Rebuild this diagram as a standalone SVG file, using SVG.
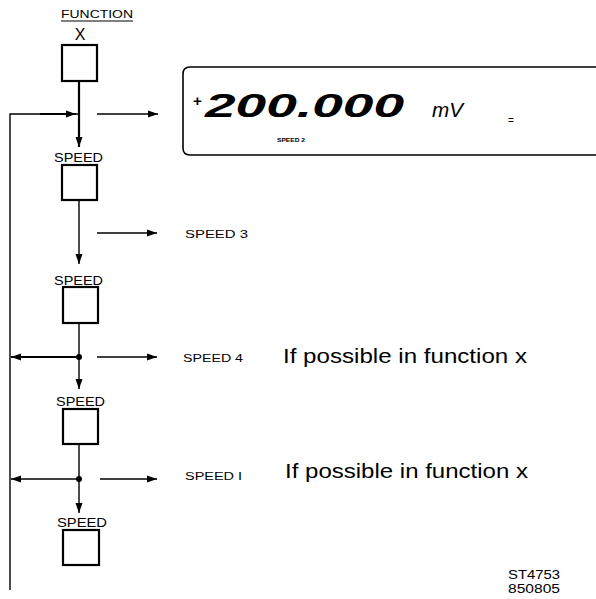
<svg xmlns="http://www.w3.org/2000/svg" width="596" height="599" viewBox="0 0 596 599">
<defs>
<style>
.bg{fill:#fff}
.box{fill:#fff;stroke:#000;stroke-width:2.2}
.ln{fill:none;stroke:#000;stroke-width:1.4}
.thick{fill:none;stroke:#000;stroke-width:2.2}
.lbl{font-family:"Liberation Sans",Arial,sans-serif;fill:#000}
.node-lbl{font-size:13px}
.note{font-family:"Liberation Sans",Arial,sans-serif;font-size:21px;fill:#000}
.dot{fill:#000}
</style>
<marker id="ah" viewBox="0 0 10 8" refX="10" refY="4" markerWidth="10" markerHeight="8" markerUnits="userSpaceOnUse" orient="auto">
<path d="M0,0.5 L10,4 L0,7.5 Z" fill="#000"/>
</marker>
</defs>
<rect class="bg" x="0" y="0" width="596" height="599"/>

<g id="connectors">
<line class="thick" x1="79" y1="81" x2="79" y2="147" marker-end="url(#ah)"/>
<line class="ln" x1="79" y1="200" x2="79" y2="264" marker-end="url(#ah)"/>
<line class="ln" x1="79" y1="323" x2="79" y2="389" marker-end="url(#ah)"/>
<line class="ln" x1="79" y1="444" x2="79" y2="513" marker-end="url(#ah)"/>
<polyline class="ln" points="10,590 10,114 79,114"/>
<line class="thick" x1="40" y1="114" x2="76" y2="114" marker-end="url(#ah)"/>
<line class="thick" x1="79" y1="357" x2="11" y2="357" marker-end="url(#ah)"/>
<line class="ln" x1="79" y1="479" x2="11" y2="479" marker-end="url(#ah)"/>
<circle class="dot" cx="79" cy="357" r="3"/>
<circle class="dot" cx="79" cy="479" r="3"/>
<line class="ln" x1="97" y1="114" x2="158" y2="114" marker-end="url(#ah)"/>
<line class="ln" x1="97" y1="233" x2="157" y2="233" marker-end="url(#ah)"/>
<line class="ln" x1="97" y1="357" x2="157" y2="357" marker-end="url(#ah)"/>
<line class="ln" x1="100" y1="479" x2="157" y2="479" marker-end="url(#ah)"/>
</g>

<g id="node-function">
<text class="lbl" x="61" y="18" style="font-size:11px" textLength="72" lengthAdjust="spacingAndGlyphs">FUNCTION</text>
<line x1="61" y1="21" x2="133" y2="21" stroke="#000" stroke-width="1"/>
<text class="lbl" x="80" y="40" style="font-size:16px" text-anchor="middle">X</text>
<rect class="box" x="62" y="45" width="35" height="36"/>
</g>

<g id="node-speed2">
<text class="lbl node-lbl" x="54" y="162" textLength="49" lengthAdjust="spacingAndGlyphs">SPEED</text>
<rect class="box" x="62" y="165" width="35" height="35"/>
</g>

<g id="node-speed3">
<text class="lbl node-lbl" x="54" y="285" textLength="49" lengthAdjust="spacingAndGlyphs">SPEED</text>
<rect class="box" x="63" y="287" width="35" height="36"/>
</g>

<g id="node-speed4">
<text class="lbl node-lbl" x="56" y="406" textLength="49" lengthAdjust="spacingAndGlyphs">SPEED</text>
<rect class="box" x="63" y="409" width="35" height="35"/>
</g>

<g id="node-speed1">
<text class="lbl node-lbl" x="57" y="527" textLength="50" lengthAdjust="spacingAndGlyphs">SPEED</text>
<rect class="box" x="63" y="530" width="36" height="35"/>
</g>

<g id="display">
<path d="M596,67 H190 Q183,67 183,74 V148 Q183,155 190,155 H596" fill="none" stroke="#000" stroke-width="1.6"/>
<text x="193" y="106" font-family="'Liberation Sans',Arial,sans-serif" font-weight="bold" font-size="15">+</text>
<text x="205" y="117" font-family="'Liberation Sans',Arial,sans-serif" font-weight="bold" font-style="italic" font-size="34" textLength="199" lengthAdjust="spacingAndGlyphs">200.000</text>
<text x="432" y="117" font-family="'Liberation Sans',Arial,sans-serif" font-style="italic" font-size="21" textLength="31" lengthAdjust="spacingAndGlyphs">mV</text>
<text x="508" y="124" font-family="'Liberation Sans',Arial,sans-serif" font-size="10">=</text>
<text x="277" y="142" font-family="'Liberation Sans',Arial,sans-serif" font-weight="bold" font-size="5" textLength="28" lengthAdjust="spacingAndGlyphs">SPEED  2</text>
</g>

<g id="labels">
<text class="lbl" x="185" y="238" style="font-size:11px" textLength="63" lengthAdjust="spacingAndGlyphs">SPEED 3</text>
<text class="lbl" x="183" y="362" style="font-size:11px" textLength="60" lengthAdjust="spacingAndGlyphs">SPEED 4</text>
<text class="note" x="283" y="363" textLength="244" lengthAdjust="spacingAndGlyphs">If possible in function x</text>
<text class="lbl" x="185" y="480" style="font-size:10px" textLength="57" lengthAdjust="spacingAndGlyphs">SPEED I</text>
<text class="note" x="285" y="478" textLength="243" lengthAdjust="spacingAndGlyphs">If possible in function x</text>
<text class="lbl" x="508" y="579" style="font-size:12px" textLength="52" lengthAdjust="spacingAndGlyphs">ST4753</text>
<text class="lbl" x="508" y="593" style="font-size:12px" textLength="52" lengthAdjust="spacingAndGlyphs">850805</text>
</g>
</svg>
